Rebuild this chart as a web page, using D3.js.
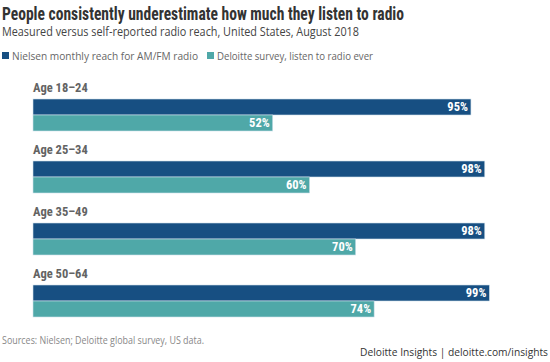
<!DOCTYPE html>
<html><head><meta charset="utf-8">
<script src="https://cdn.jsdelivr.net/npm/d3@7"></script>
<style>body{margin:0;background:#fff}svg{display:block}</style>
</head><body>
<script>
const categories = ["Age 18–24", "Age 25–34", "Age 35–49", "Age 50–64"];
const seriesNames = ["Nielsen monthly reach for AM/FM radio", "Deloitte survey, listen to radio ever"];
const nielsen = [95, 98, 98, 99];
const deloitte = [52, 60, 70, 74];
const colors = ["#174f82", "#4fa8a8"];

const W = 550, H = 362;
const svg = d3.select("body").append("svg").attr("width", W).attr("height", H);
const cond = "'Liberation Sans Narrow','Roboto Condensed','Open Sans Condensed',Arial Narrow,sans-serif";
const sans = "'Open Sans','Noto Sans',sans-serif";

svg.append("text").attr("x", 2).attr("y", 20).text("People consistently underestimate how much they listen to radio")
  .attr("font-family", cond).attr("font-weight", "bold").attr("font-size", 17.5).attr("fill", "#333")
  .attr("textLength", 402).attr("lengthAdjust", "spacingAndGlyphs");
svg.append("text").attr("x", 2).attr("y", 36).text("Measured versus self-reported radio reach, United States, August 2018")
  .attr("font-family", sans).attr("font-size", 12).attr("fill", "#444")
  .attr("textLength", 357).attr("lengthAdjust", "spacingAndGlyphs");

// legend
const legX = [2, 207], legW = [186, 156];
seriesNames.forEach((n, i) => {
  svg.append("rect").attr("x", legX[i]).attr("y", 52).attr("width", 7).attr("height", 7).attr("fill", colors[i]);
  svg.append("text").attr("x", legX[i] + 10).attr("y", 59.5).text(n)
    .attr("font-family", sans).attr("font-size", 10.5).attr("fill", "#666")
    .attr("textLength", legW[i]).attr("lengthAdjust", "spacingAndGlyphs");
});

const x = d3.scaleLinear().domain([0, 100]).range([33, 494]);
const y = d3.scaleBand().domain(categories).range([79, 327]).paddingInner(0).paddingOuter(0);
const barH = 16;

categories.forEach((c, i) => {
  const g = svg.append("g").attr("transform", `translate(0,${y(c)})`);
  g.append("text").attr("x", 33).attr("y", 13).text(c)
    .attr("font-family", cond).attr("font-weight", "bold").attr("font-size", 12.5).attr("fill", "#636363");
  [nielsen[i], deloitte[i]].forEach((v, j) => {
    const yy = 20 + j * barH;
    g.append("rect").attr("x", x(0)).attr("y", yy).attr("width", x(v) - x(0)).attr("height", barH)
      .attr("fill", colors[j]).attr("stroke", "#cfe0ea").attr("stroke-width", 0.6);
    g.append("text").attr("x", x(v) - 3).attr("y", yy + 12.3).attr("text-anchor", "end").text(v + "%")
      .attr("font-family", cond).attr("font-weight", "bold").attr("font-size", 12.5).attr("fill", "#fff");
  });
});

svg.append("text").attr("x", 2).attr("y", 344).text("Sources: Nielsen; Deloitte global survey, US data.")
  .attr("font-family", sans).attr("font-size", 10).attr("fill", "#888")
  .attr("textLength", 202).attr("lengthAdjust", "spacingAndGlyphs");
svg.append("text").attr("x", 548).attr("y", 356).attr("text-anchor", "end").text("Deloitte Insights | deloitte.com/insights")
  .attr("font-family", sans).attr("font-size", 10).attr("fill", "#333")
  .attr("textLength", 188).attr("lengthAdjust", "spacingAndGlyphs");
</script>
</body></html>
